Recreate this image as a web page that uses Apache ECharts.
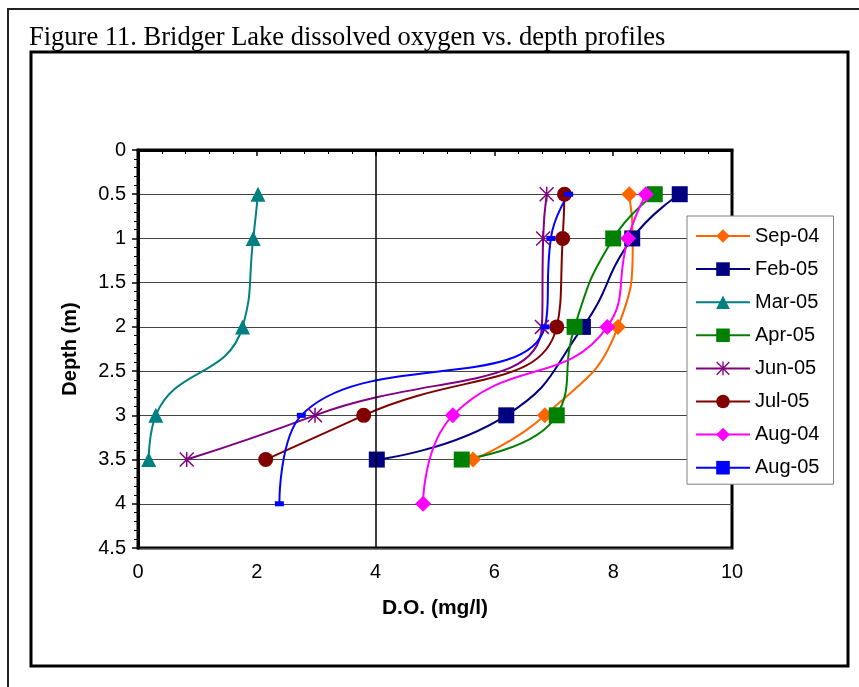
<!DOCTYPE html>
<html>
<head>
<meta charset="utf-8">
<script src="https://cdn.jsdelivr.net/npm/echarts@6/dist/echarts.min.js"></script>
<style>
  html, body { margin: 0; padding: 0; background: #fff; }
  #chart { width: 859px; height: 687px; }
</style>
</head>
<body>
<div id="chart"></div>
<script>
// Dissolved oxygen (mg/l) measured at each depth (m), one profile per sampling date
const seriesNames = ['Sep-04', 'Feb-05', 'Mar-05', 'Apr-05', 'Jun-05', 'Jul-05', 'Aug-04', 'Aug-05'];

const sep04Depth = [0.5, 1, 2, 3, 3.5];
const sep04DO    = [8.27, 8.33, 8.08, 6.85, 5.64];

const feb05Depth = [0.5, 1, 2, 3, 3.5];
const feb05DO    = [9.12, 8.32, 7.49, 6.2, 4.02];

const mar05Depth = [0.5, 1, 2, 3, 3.5];
const mar05DO    = [2.02, 1.94, 1.76, 0.3, 0.18];

const apr05Depth = [0.5, 1, 2, 3, 3.5];
const apr05DO    = [8.7, 8.0, 7.35, 7.05, 5.45];

const jun05Depth = [0.5, 1, 2, 3, 3.5];
const jun05DO    = [6.88, 6.82, 6.8, 2.98, 0.82];

const jul05Depth = [0.5, 1, 2, 3, 3.5];
const jul05DO    = [7.18, 7.15, 7.05, 3.8, 2.15];

const aug04Depth = [0.5, 1, 2, 3, 4];
const aug04DO    = [8.55, 8.25, 7.9, 5.3, 4.8];

const aug05Depth = [0.5, 1, 2, 3, 4];
const aug05DO    = [7.25, 6.95, 6.85, 2.75, 2.38];

// Axis tick settings
const doTicks = [0, 2, 4, 6, 8, 10];
const depthTicks = [0, 0.5, 1, 1.5, 2, 2.5, 3, 3.5, 4, 4.5];
const referenceDO = 4;

const profiles = [
  [sep04DO, sep04Depth], [feb05DO, feb05Depth], [mar05DO, mar05Depth], [apr05DO, apr05Depth],
  [jun05DO, jun05Depth], [jul05DO, jul05Depth], [aug04DO, aug04Depth], [aug05DO, aug05Depth]
];

// Asterisk marker: a vertical bar crossed by two diagonals
const starPath = 'path://M9,0L11,0L11,20L9,20Z M0,1.4L1.4,0L20,18.6L18.6,20Z M18.6,0L20,1.4L1.4,20L0,18.6Z';

const looks = [
  { color: '#FF6600', symbol: 'diamond', size: 16 },
  { color: '#000080', symbol: 'rect', size: 16 },
  { color: '#008080', symbol: 'triangle', size: 15 },
  { color: '#008000', symbol: 'rect', size: 16 },
  { color: '#800080', symbol: starPath, size: 15 },
  { color: '#800000', symbol: 'circle', size: 15 },
  { color: '#FF00FF', symbol: 'diamond', size: 16 },
  { color: '#0000FF', symbol: 'rect', size: [9, 5] }
];

const series = seriesNames.map((name, i) => {
  const [vals, depths] = profiles[i];
  const s = {
    name: name,
    type: 'line',
    data: vals.map((v, k) => [v, depths[k]]),
    smooth: 0.5,
    symbol: looks[i].symbol,
    symbolSize: looks[i].size,
    showAllSymbol: true,
    lineStyle: { color: looks[i].color, width: 2 },
    itemStyle: { color: looks[i].color },
    emphasis: { disabled: true },
    animation: false
  };
  if (i === 0) {
    s.markLine = {
      silent: true,
      symbol: 'none',
      label: { show: false },
      lineStyle: { color: '#000', width: 1.5, type: 'solid' },
      data: [{ xAxis: referenceDO }],
      animation: false
    };
  }
  return s;
});

const chart = echarts.init(document.getElementById('chart'), null, { renderer: 'canvas' });
chart.setOption({
  backgroundColor: '#fff',
  animation: false,
  title: {
    text: 'Figure 11. Bridger Lake dissolved oxygen vs. depth profiles',
    left: 29,
    top: 25,
    padding: 0,
    textStyle: { fontFamily: 'Liberation Serif', fontSize: 26.5, fontWeight: 'normal', color: '#000' }
  },
  graphic: [
    { type: 'rect', shape: { x: 8, y: 9, width: 900, height: 700 }, style: { fill: 'none', stroke: '#222', lineWidth: 2 }, silent: true, z: -10 },
    { type: 'rect', shape: { x: 31, y: 52, width: 817, height: 614 }, style: { fill: 'none', stroke: '#000', lineWidth: 3 }, silent: true, z: -10 }
  ],
  legend: {
    orient: 'vertical',
    left: 687,
    top: 216,
    itemWidth: 54,
    itemHeight: 17,
    itemGap: 13.1,
    padding: [10, 14, 6.5, 8],
    backgroundColor: '#fff',
    borderColor: '#808080',
    borderWidth: 1,
    borderRadius: 0,
    data: seriesNames,
    textStyle: { fontFamily: 'Liberation Sans', fontSize: 20, color: '#000' },
    z: 10
  },
  grid: {
    left: 138, top: 150, right: 127, bottom: 139,
    show: true, borderColor: '#000', borderWidth: 3, backgroundColor: '#fff'
  },
  xAxis: {
    type: 'value',
    min: doTicks[0], max: doTicks[doTicks.length - 1], interval: doTicks[1] - doTicks[0],
    name: 'D.O. (mg/l)',
    nameLocation: 'middle',
    nameGap: 50,
    nameTextStyle: { fontFamily: 'Liberation Sans', fontSize: 21, fontWeight: 'bold', color: '#000' },
    axisLine: { lineStyle: { color: '#000', width: 3 } },
    axisTick: { show: true, length: 6, lineStyle: { color: '#000', width: 1.5 } },
    minorTick: { show: true, splitNumber: 5, length: 4, lineStyle: { color: '#000', width: 1 } },
    splitLine: { show: false },
    axisLabel: { margin: 14, fontFamily: 'Liberation Sans', fontSize: 20, color: '#000' }
  },
  yAxis: {
    type: 'value',
    inverse: true,
    min: depthTicks[0], max: depthTicks[depthTicks.length - 1], interval: depthTicks[1] - depthTicks[0],
    name: 'Depth (m)',
    nameLocation: 'middle',
    nameGap: 58,
    nameRotate: 90,
    nameTextStyle: { fontFamily: 'Liberation Sans', fontSize: 20, fontWeight: 'bold', color: '#000' },
    axisLine: { lineStyle: { color: '#000', width: 3 } },
    axisTick: { show: true, length: 6, lineStyle: { color: '#000', width: 1.5 } },
    minorTick: { show: true, splitNumber: 5, length: 4, lineStyle: { color: '#000', width: 1 } },
    splitLine: { show: true, lineStyle: { color: '#444', width: 1 } },
    axisLabel: { margin: 12, fontFamily: 'Liberation Sans', fontSize: 20, color: '#000' }
  },
  series: series
});
</script>
</body>
</html>
